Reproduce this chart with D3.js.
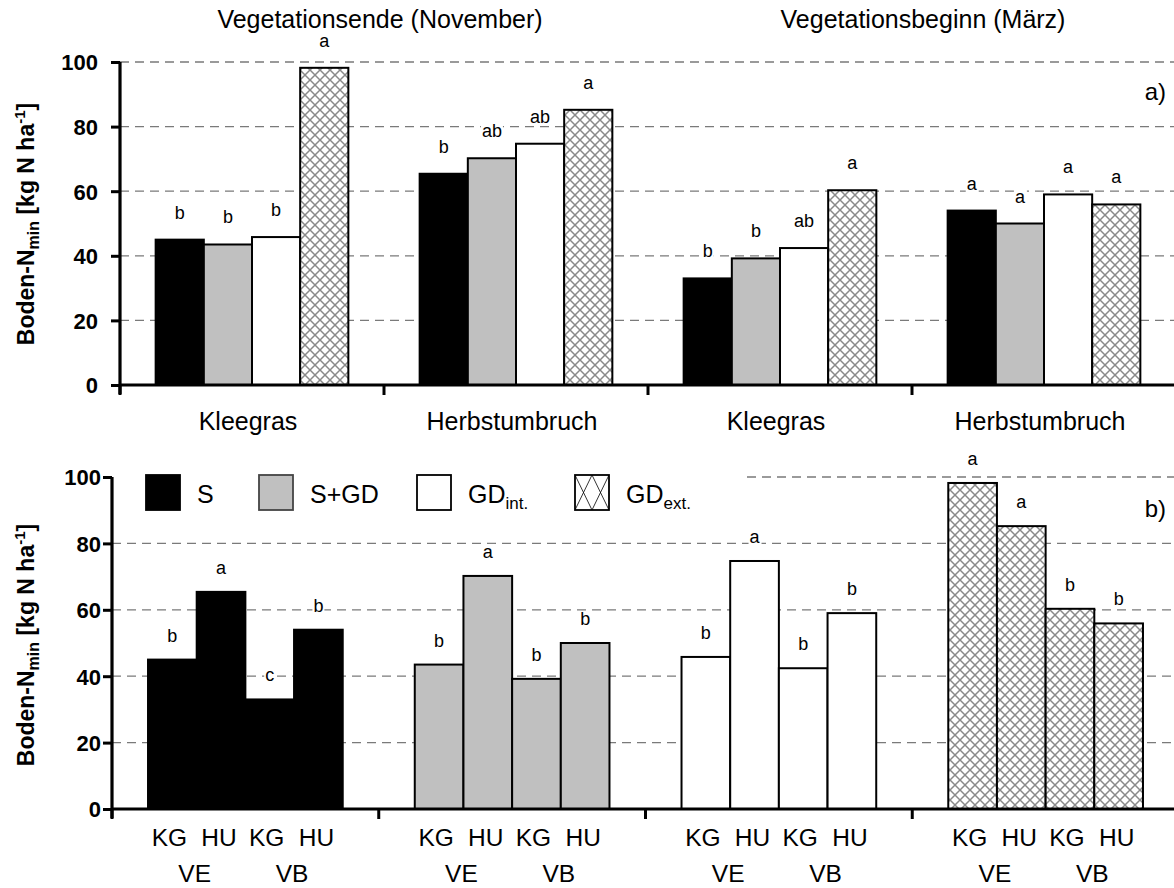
<!DOCTYPE html>
<html>
<head>
<meta charset="utf-8">
<script src="https://cdn.jsdelivr.net/npm/d3@7"></script>
<style>
  body { margin: 0; background: #fff; }
  text { font-family: Arial, "Liberation Sans", sans-serif; }
</style>
</head>
<body>
<div id="chart"></div>
<script>
// categories: site x time, in the order of the top panel
var groups = ["KG-VE", "HU-VE", "KG-VB", "HU-VB"];
var topLabels = ["Kleegras", "Herbstumbruch", "Kleegras", "Herbstumbruch"];
var seasonTitles = ["Vegetationsende (November)", "Vegetationsbeginn (März)"];
var siteShort = ["KG", "HU", "KG", "HU"];
var timeShort = ["VE", "VB"];
var series = ["S", "S+GD", "GDint", "GDext"];
var yTicks = [0, 20, 40, 60, 80, 100];

// Boden-Nmin per treatment, in group order
var valS     = [45.0, 65.4, 33.0, 54.0];
var valSGD   = [43.5, 70.2, 39.2, 50.0];
var valGDint = [45.8, 74.7, 42.4, 59.0];
var valGDext = [98.2, 85.2, 60.3, 55.9];

// significance letters: top panel (compare treatments), bottom panel (compare groups)
var topS     = ["b", "b", "b", "a"];
var topSGD   = ["b", "ab", "b", "a"];
var topGDint = ["b", "ab", "ab", "a"];
var topGDext = ["a", "a", "a", "a"];
var botS     = ["b", "a", "c", "b"];
var botSGD   = ["b", "a", "b", "b"];
var botGDint = ["b", "a", "b", "b"];
var botGDext = ["a", "a", "b", "b"];

var values = [valS, valSGD, valGDint, valGDext];
var lettersTop = [topS, topSGD, topGDint, topGDext];
var lettersBot = [botS, botSGD, botGDint, botGDext];

var W = 1174, H = 888;
var svg = d3.select("#chart").append("svg")
    .attr("width", W).attr("height", H);

var defs = svg.append("defs");
var pat = defs.append("pattern")
    .attr("id", "hatch").attr("patternUnits", "userSpaceOnUse")
    .attr("width", 10).attr("height", 10);
pat.append("rect").attr("width", 10).attr("height", 10).attr("fill", "#fff");
pat.append("path").attr("d", "M0,0L10,10M10,0L0,10M-1,9L1,11M9,-1L11,1")
    .attr("stroke", "#8a8a8a").attr("stroke-width", 1.5);

var pat2 = defs.append("pattern")
    .attr("id", "hatchLegend").attr("patternUnits", "userSpaceOnUse")
    .attr("width", 17).attr("height", 35).attr("x", 575).attr("y", 475);
pat2.append("rect").attr("width", 17).attr("height", 35).attr("fill", "#fff");
pat2.append("path").attr("d", "M0,0L17,35M17,0L0,35")
    .attr("stroke", "#000").attr("stroke-width", 0.8);

var fills = ["#000", "#c0c0c0", "#fff", "url(#hatch)"];

function yAxisTitle(g, cx, cy) {
  var t = g.append("text")
      .attr("transform", "translate(" + cx + "," + cy + ") rotate(-90)")
      .attr("text-anchor", "middle")
      .attr("font-weight", "bold").attr("font-size", 23);
  t.append("tspan").text("Boden-N");
  t.append("tspan").attr("font-size", 16).attr("dy", 5).text("min");
  t.append("tspan").attr("dy", -5).text(" [kg N ha");
  t.append("tspan").attr("font-size", 15).attr("dy", -9).text("-1");
  t.append("tspan").attr("dy", 9).text("]");
}

function drawLetters(g, data) {
  var lab = g.selectAll(".lab").data(data).enter().append("g").attr("class", "lab");
  lab.append("rect").attr("fill", "#fff");
  lab.append("text")
      .attr("x", function(d) { return d.x; })
      .attr("y", function(d) { return d.y; })
      .attr("text-anchor", "middle").attr("font-size", 18)
      .text(function(d) { return d.t; });
  lab.each(function() {
    var node = d3.select(this);
    var b = node.select("text").node().getBBox();
    node.select("rect").attr("x", b.x - 1).attr("y", b.y + 2)
        .attr("width", b.width + 2).attr("height", b.height - 3);
  });
}

function panel(opt) {
  var g = svg.append("g");
  var y = d3.scaleLinear().domain([0, 100]).range([opt.y0, opt.y1]);
  var x0 = d3.scaleBand().domain(d3.range(4)).range([opt.xl, opt.xr]);
  var x1 = d3.scaleBand().domain(d3.range(4)).range([0, x0.bandwidth()])
      .paddingOuter(0.74);

  // dashed grid
  g.selectAll(".grid").data(yTicks.filter(function(d) { return d > 0; }))
    .enter().append("line")
      .attr("x1", function(d) { return d === 100 && opt.legend ? 747 : opt.xl; })
      .attr("x2", W)
      .attr("y1", function(d) { return y(d); })
      .attr("y2", function(d) { return y(d); })
      .attr("stroke", "#7a7a7a").attr("stroke-width", 1.3)
      .attr("stroke-dasharray", "9,6");

  return { g: g, y: y, x0: x0, x1: x1 };
}

function axes(p, opt) {
  var ya = p.g.append("g").attr("transform", "translate(" + opt.xl + ",0)")
      .call(d3.axisLeft(p.y).tickValues(yTicks).tickSize(9).tickPadding(opt.pad));
  ya.select(".domain").attr("stroke-width", 3.2)
      .attr("d", "M0," + (opt.y0 + 9) + "V" + opt.y1);
  ya.selectAll(".tick line").attr("stroke-width", 3);
  ya.selectAll(".tick text").attr("font-size", 22).attr("font-weight", "bold")
      .attr("font-family", "Arial, 'Liberation Sans', sans-serif").attr("dy", "0.36em");

  var bounds = d3.range(5).map(function(i) { return opt.xl + i * p.x0.step(); });
  p.g.append("line").attr("x1", opt.xl).attr("x2", W)
      .attr("y1", opt.y0).attr("y2", opt.y0)
      .attr("stroke", "#000").attr("stroke-width", 3.2);
  p.g.selectAll(".xt").data(bounds).enter().append("line")
      .attr("x1", function(d) { return d; }).attr("x2", function(d) { return d; })
      .attr("y1", opt.y0).attr("y2", opt.y0 + 10)
      .attr("stroke", "#000").attr("stroke-width", 3);
}

// ---------- top panel a) ----------
var optA = { xl: 120, xr: 1176, y0: 385, y1: 62, pad: 13 };
var pa = panel(optA);
var barsA = [];
series.forEach(function(s, si) {
  groups.forEach(function(gname, gi) {
    barsA.push({ si: si, gi: gi, v: values[si][gi], t: lettersTop[si][gi] });
  });
});
pa.g.selectAll(".bar").data(barsA).enter().append("rect")
    .attr("x", function(d) { return pa.x0(d.gi) + pa.x1(d.si); })
    .attr("width", pa.x1.bandwidth())
    .attr("y", function(d) { return pa.y(d.v); })
    .attr("height", function(d) { return optA.y0 - pa.y(d.v); })
    .attr("fill", function(d) { return fills[d.si]; })
    .attr("stroke", "#000").attr("stroke-width", 2);
drawLetters(pa.g, barsA.map(function(d) {
  return { x: pa.x0(d.gi) + pa.x1(d.si) + pa.x1.bandwidth() / 2, y: pa.y(d.v) - 21, t: d.t };
}));
axes(pa, optA);

pa.g.selectAll(".cat").data(topLabels).enter().append("text")
    .attr("x", function(d, i) { return pa.x0(i) + pa.x0.bandwidth() / 2 - 4; })
    .attr("y", 430).attr("text-anchor", "middle").attr("font-size", 25)
    .text(function(d) { return d; });
pa.g.selectAll(".season").data(seasonTitles).enter().append("text")
    .attr("x", function(d, i) { return optA.xl + (2 * i + 1) * pa.x0.step() - 4 + i * 15; })
    .attr("y", 28).attr("text-anchor", "middle").attr("font-size", 25)
    .text(function(d) { return d; });
pa.g.append("text").attr("x", 1166).attr("y", 100).attr("text-anchor", "end")
    .attr("font-size", 24).text("a)");
yAxisTitle(pa.g, 34, 224);

// ---------- bottom panel b) ----------
var optB = { xl: 112, xr: 1179, y0: 809, y1: 477, pad: 2, legend: true };
var pb = panel(optB);
var barsB = [];
series.forEach(function(s, si) {
  groups.forEach(function(gname, gi) {
    barsB.push({ si: si, gi: gi, v: values[si][gi], t: lettersBot[si][gi] });
  });
});
pb.g.selectAll(".bar").data(barsB).enter().append("rect")
    .attr("x", function(d) { return pb.x0(d.si) + pb.x1(d.gi); })
    .attr("width", pb.x1.bandwidth())
    .attr("y", function(d) { return pb.y(d.v); })
    .attr("height", function(d) { return optB.y0 - pb.y(d.v); })
    .attr("fill", function(d) { return fills[d.si]; })
    .attr("stroke", "#000").attr("stroke-width", 2);
drawLetters(pb.g, barsB.map(function(d) {
  return { x: pb.x0(d.si) + pb.x1(d.gi) + pb.x1.bandwidth() / 2, y: pb.y(d.v) - 18, t: d.t };
}));
axes(pb, optB);

series.forEach(function(s, si) {
  siteShort.forEach(function(k, gi) {
    pb.g.append("text")
        .attr("x", pb.x0(si) + pb.x1(gi) + pb.x1.bandwidth() / 2 + (gi % 2 ? -2 : -3))
        .attr("y", 846).attr("text-anchor", "middle").attr("font-size", 24.5)
        .text(k);
  });
  timeShort.forEach(function(t, ti) {
    pb.g.append("text")
        .attr("x", pb.x0(si) + pb.x1(2 * ti + 1) - 2)
        .attr("y", 882).attr("text-anchor", "middle").attr("font-size", 24.5)
        .text(t);
  });
});
pb.g.append("text").attr("x", 1166).attr("y", 517).attr("text-anchor", "end")
    .attr("font-size", 24).text("b)");
yAxisTitle(pb.g, 34, 645);

// legend
var legendX = [146, 259, 417, 575];
var lg = svg.append("g");
lg.selectAll("rect").data(series).enter().append("rect")
    .attr("x", function(d, i) { return legendX[i]; })
    .attr("y", 475).attr("width", 34).attr("height", 35)
    .attr("fill", function(d, i) { return i === 3 ? "url(#hatchLegend)" : fills[i]; })
    .attr("stroke", function(d, i) { return i === 1 ? "#444" : "#000"; })
    .attr("stroke-width", 1.8);
var lt = lg.selectAll("text").data(series).enter().append("text")
    .attr("x", function(d, i) { return legendX[i] + 51; })
    .attr("y", 503).attr("font-size", 25);
lt.each(function(d) {
  var t = d3.select(this);
  if (d.indexOf("GD") === 0 && d.length > 2) {
    t.append("tspan").text("GD");
    t.append("tspan").attr("font-size", 17).attr("dy", 6).text(d.slice(2) + ".");
  } else {
    t.text(d);
  }
});
</script>
</body>
</html>
